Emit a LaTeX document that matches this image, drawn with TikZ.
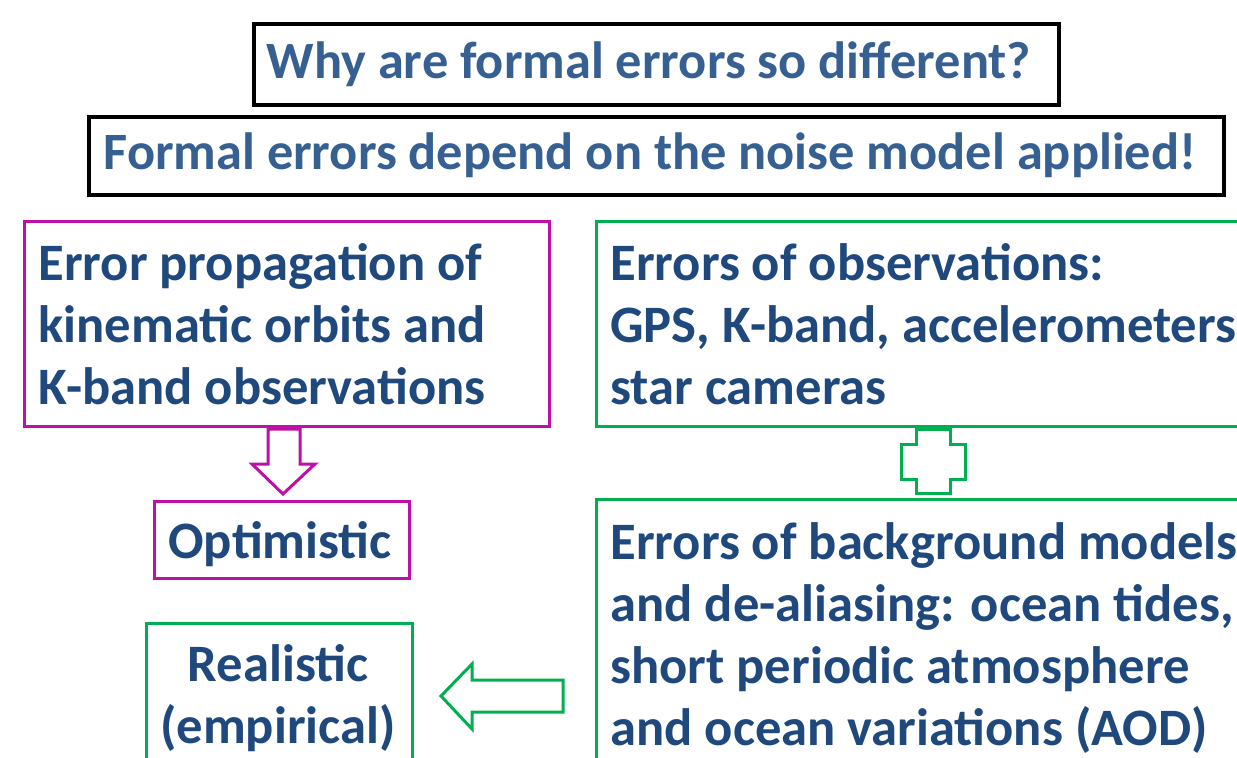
\documentclass[tikz,border=0pt]{standalone}
\usepackage{fontspec}
\setmainfont{Carlito}
\definecolor{txtblue}{HTML}{1F497D}
\definecolor{ttlblue}{HTML}{376092}
\definecolor{mag}{HTML}{BE10A8}
\definecolor{grn}{HTML}{00B050}
\begin{document}
\begin{tikzpicture}[x=0.5pt,y=-0.5pt,
  blackbox/.style={draw=black,line width=2pt,inner sep=0pt,anchor=north west},
  magbox/.style={draw=mag,line width=1.5pt,inner sep=0pt,anchor=north west},
  grnbox/.style={draw=grn,line width=1.7pt,inner sep=0pt,anchor=north west},
  ttl/.style={text=ttlblue,font=\bfseries\fontsize{26.2}{30}\selectfont,inner sep=0pt,anchor=base},
  body/.style={text=txtblue,font=\bfseries\fontsize{26.3}{31}\selectfont,inner sep=0pt,align=left,anchor=base west},
  bodyc/.style={text=txtblue,font=\bfseries\fontsize{26.3}{31}\selectfont,inner sep=0pt,align=center,anchor=base},
  blockarrow/.style={line width=1.5pt,fill=white,line join=miter}
]
\useasboundingbox (0,0) rectangle (1237,757);
\clip (0,0) rectangle (1237,757);
\fill[white] (0,0) rectangle (1237,757);
% boxes
\node[blackbox,minimum width=805*0.5pt,minimum height=81*0.5pt] (b1) at (252,22) {};
\node[blackbox,minimum width=1135*0.5pt,minimum height=78*0.5pt] (b2) at (87,115) {};
\node[magbox,minimum width=525*0.5pt,minimum height=205*0.5pt] (mb) at (23,220) {};
\node[grnbox,minimum width=700*0.5pt,minimum height=205*0.5pt] (gb1) at (595,220) {};
\node[magbox,minimum width=255*0.5pt,minimum height=77*0.5pt] (ob) at (153,500) {};
\node[grnbox,minimum width=700*0.5pt,minimum height=300*0.5pt] (gb2) at (595,498) {};
\node[grnbox,minimum width=266*0.5pt,minimum height=200*0.5pt] (rb) at (145,622) {};
% texts (multi-line nodes: base = last line)
\node[ttl] (t1) at (649,78) {Why are formal errors so different?};
\node[ttl] (t2) at (650,169) {Formal errors depend on the noise model applied!};
\node[body] (tm) at (38,404) {Error propagation of\\kinematic orbits and\\K-band observations};
\node[body] (tg1) at (610,404) {Errors of observations:\\GPS, K-band, accelerometers,\\star cameras};
\node[bodyc] (to) at (280,558) {Optimistic};
\node[body] (tg2) at (610,745) {Errors of background models\\and de-aliasing: ocean tides,\\short periodic atmosphere\\and ocean variations (AOD)};
\node[bodyc] (tr) at (278,743) {Realistic\\(empirical)};
% block arrows
\draw[blockarrow,draw=mag] (268,429) -- (300,429) -- (300,464) -- (315,464) -- (283,494) -- (252,464) -- (268,464) -- cycle;
\draw[blockarrow,draw=grn] (916,429) -- (950,429) -- (950,444) -- (965,444) -- (965,479) -- (950,479) -- (950,493) -- (916,493) -- (916,479) -- (901,479) -- (901,444) -- (916,444) -- cycle;
\draw[blockarrow,draw=grn] (563,680) -- (472,680) -- (472,664) -- (441,696) -- (472,729) -- (472,712) -- (563,712) -- cycle;
\end{tikzpicture}
\end{document}
